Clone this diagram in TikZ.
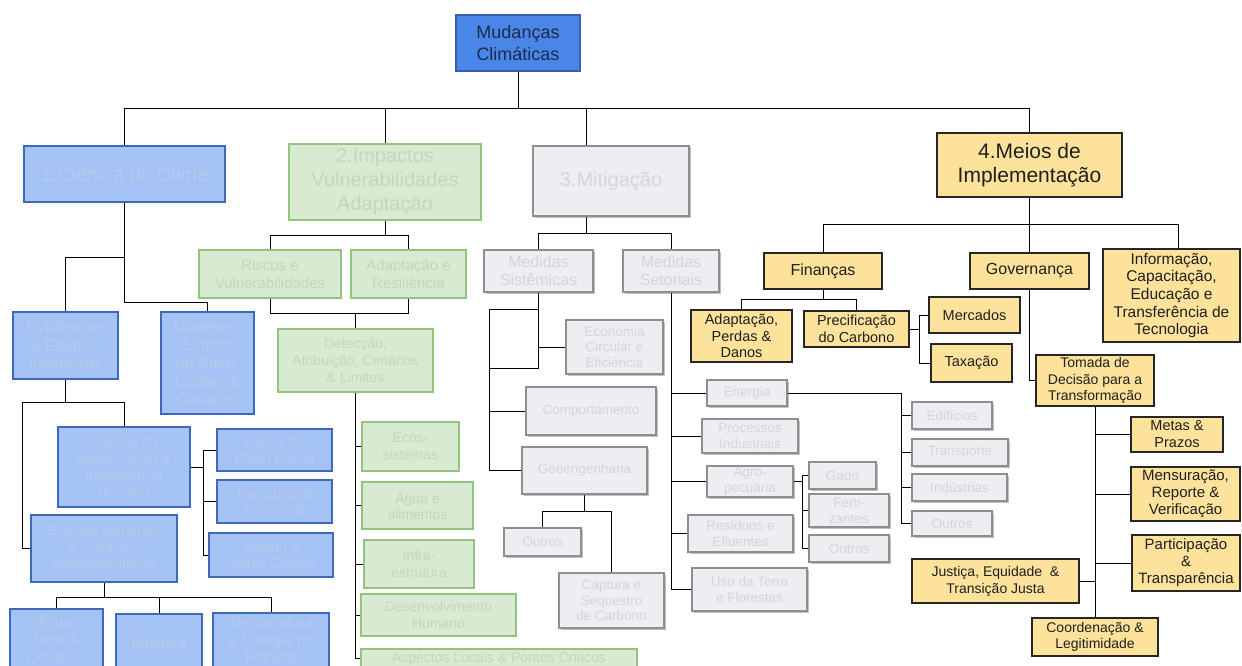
\documentclass[tikz,border=0pt]{standalone}
\usepackage{fontspec}
\setmainfont{Liberation Sans}
\usetikzlibrary{shadows,backgrounds}

\definecolor{linec}{HTML}{6E6E6E}
\definecolor{rootf}{HTML}{4A86E8}
\definecolor{rootd}{HTML}{3A5FA8}
\definecolor{roott}{HTML}{1C2B4A}
\definecolor{bluef}{HTML}{A4C2F4}
\definecolor{blued}{HTML}{3F68B8}
\definecolor{bluet}{HTML}{B6CAEE}
\definecolor{greenf}{HTML}{D9EAD3}
\definecolor{greend}{HTML}{93C47D}
\definecolor{greent}{HTML}{C4D7BC}
\definecolor{greyf}{HTML}{ECEEF1}
\definecolor{greyd}{HTML}{8E8E8E}
\definecolor{greyt}{HTML}{D3D6DA}
\definecolor{yelf}{HTML}{FDE29B}
\definecolor{yeld}{HTML}{262626}

% font sizes (1 unit = 1 pt)
\newcommand{\fsHead}{\fontsize{20}{24}\selectfont}
\newcommand{\fsSub}{\fontsize{16}{18.3}\selectfont}
\newcommand{\fsMid}{\fontsize{15}{17.5}\selectfont}
\newcommand{\fsSmall}{\fontsize{14}{16.8}\selectfont}
\newcommand{\fsTiny}{\fontsize{13.5}{15.5}\selectfont}

% box given by its corners: name, style, x1, y1, x2, y2, text
\newcommand{\bx}[7]{\node[#2, minimum width={#5-#3}, minimum height={#6-#4}] (#1) at ({(#3+#5)/2},{(#4+#6)/2}) {#7};}

\tikzset{
  box/.style={inner sep=0pt, align=center, line width=1.4pt},
  rootbox/.style={box, fill=rootf, draw=rootd, text=roott},
  bluebox/.style={box, fill=bluef, draw=blued, text=bluet},
  greenbox/.style={box, fill=greenf, draw=greend, text=greent},
  greybox/.style={box, fill=greyf, draw=greyd, text=greyt,
    drop shadow={shadow xshift=1.5pt, shadow yshift=-1.5pt, opacity=0.35, fill=black!70}},
  yelbox/.style={box, fill=yelf, draw=yeld, text=black!88, line width=1.2pt},
  wire/.style={draw=linec, line width=1.6pt},
}

\begin{document}
\begin{tikzpicture}[x=1pt, y=-1pt]
\useasboundingbox (0,0) rectangle (1242,666);
\clip (0,0) rectangle (1242,666);

% ---------- bus coordinates ----------
\coordinate (busA) at (0,108);
\coordinate (mdrop) at (586,108);
\coordinate (c1) at (0,257);
\coordinate (c2) at (0,302);
\coordinate (e1) at (22,402);
\coordinate (k1) at (203,0);
\coordinate (v1) at (0,597);
\coordinate (i1) at (0,235);
\coordinate (i2) at (0,313);
\coordinate (m1) at (586,233);
\coordinate (s0) at (489,309);
\coordinate (s1) at (0,368);
\coordinate (g1) at (0,511);
\coordinate (n1) at (901,0);
\coordinate (a1) at (802,0);
\coordinate (y2) at (1178,224);
\coordinate (f1) at (0,299);
\coordinate (p1) at (919,0);

% ---------- root ----------
\bx{root}{rootbox, font=\fontsize{18}{22.5}\selectfont}{456}{15}{580}{71}{Mudanças\\Climáticas}

% ---------- 1. Ciência do Clima ----------
\bx{cien}{bluebox, font=\fsHead}{24}{146}{225}{202}{1.Ciência do Clima}
\bx{evid}{bluebox, font=\fsSub}{13}{312}{118}{379}{Evidências\\e Efeitos,\\Incertezas}
\bx{mod}{bluebox, font=\fsSub}{161}{312}{254}{414}{Modelos ,\\Linhas\\de Base,\\Limites \&\\Cenários}
\bx{caus}{bluebox, font=\fsSmall}{58}{427}{190}{507}{Causas do\\aquecimento \&\\Interferência\\Humana}
\bx{gases}{bluebox, font=\fsSmall}{217}{429}{332}{471}{Gases de\\Efeito Estufa}
\bx{part}{bluebox, font=\fsSmall}{217}{480}{332}{523}{Partículas \&\\Aerossóis}
\bx{alb}{bluebox, font=\fsSmall}{209}{533}{333}{577}{Albedo e\\Outras Causas}
\bx{even}{bluebox, font=\fsSmall}{31}{515}{177}{582}{Eventos extremos\\\& crônicos;\\retroalimentação}
\bx{agua}{bluebox, font=\fsMid}{10}{609}{103}{668}{Água,\\Gelo \&\\Oceanos}
\bx{bio}{bluebox, font=\fsMid}{116}{614}{202}{672}{Biosfera}
\bx{temp}{bluebox, font=\fsMid}{213}{613}{329}{667}{Temperatura\\e Energia no\\Planeta}

% ---------- 2. Impactos ----------
\bx{imp}{greenbox, font=\fsHead}{289}{144}{481}{220}{2.Impactos\\Vulnerabilidades\\Adaptação}
\bx{risc}{greenbox, font=\fsMid}{199}{250}{341}{298}{Riscos e\\Vulnerabilidades}
\bx{adap}{greenbox, font=\fsMid}{351}{250}{466}{298}{Adaptação e\\Resiliência}
\bx{det}{greenbox, font=\fsSmall}{278}{329}{433}{392}{Detecção,\\Atribuição, Cenários\\\& Limites}
\bx{ecos}{greenbox, font=\fsSmall}{362}{422}{459}{471}{Ecos-\\sistemas}
\bx{agal}{greenbox, font=\fsSmall}{362}{482}{473}{529}{Água e\\alimentos}
\bx{infra}{greenbox, font=\fsSmall}{364}{540}{474}{588}{Infra-\\estrutura}
\bx{desen}{greenbox, font=\fsSmall}{361}{594}{516}{636}{Desenvolvimento\\Humano}
\bx{asp}{greenbox, font=\fsSmall}{361}{649}{637}{668}{Aspectos Locais \& Pontos Críticos}

% ---------- 3. Mitigação ----------
\bx{mit}{greybox, font=\fsHead}{533}{146}{689}{216}{3.Mitigação}
\bx{msis}{greybox, font=\fsSub}{484}{250}{593}{292}{Medidas\\Sistêmicas}
\bx{mset}{greybox, font=\fsSub}{623}{250}{719}{292}{Medidas\\Setoriais}
\bx{eco}{greybox, font=\fsTiny}{566}{320}{663}{374}{Economia\\Circular e\\Eficiência}
\bx{comp}{greybox, font=\fsTiny}{526}{387}{656}{435}{Comportamento}
\bx{geo}{greybox, font=\fsTiny}{522}{447}{647}{494}{Geoengenharia}
\bx{outm}{greybox, font=\fsTiny}{504}{528}{581}{556}{Outros}
\bx{capt}{greybox, font=\fsTiny}{559}{573}{664}{628}{Captura e\\Sequestro\\de Carbono}
\bx{ener}{greybox, font=\fsTiny}{707}{380}{787}{406}{Energia}
\bx{proc}{greybox, font=\fsTiny}{702}{419}{798}{453}{Processos\\Industriais}
\bx{agro}{greybox, font=\fsTiny}{707}{466}{793}{497}{Agro-\\pecuária}
\bx{resi}{greybox, font=\fsTiny}{688}{515}{793}{552}{Resíduos e\\Efluentes}
\bx{uso}{greybox, font=\fsTiny}{692}{568}{807}{611}{Uso da Terra\\e Florestas}
\bx{edif}{greybox, font=\fsTiny}{912}{402}{992}{429}{Edifícios}
\bx{trans}{greybox, font=\fsTiny}{912}{439}{1008}{466}{Transporte}
\bx{indu}{greybox, font=\fsTiny}{912}{474}{1007}{501}{Indústrias}
\bx{oute}{greybox, font=\fsTiny}{912}{511}{992}{536}{Outros}
\bx{gado}{greybox, font=\fsTiny}{809}{462}{876}{489}{Gado}
\bx{fert}{greybox, font=\fsTiny}{809}{494}{889}{527}{Ferti-\\zantes}
\bx{outa}{greybox, font=\fsTiny}{809}{535}{889}{562}{Outros}

% ---------- 4. Meios de Implementação ----------
\bx{meios}{yelbox, font=\fontsize{21}{24}\selectfont}{937}{133}{1122}{197}{4.Meios de\\Implementação}
\bx{fin}{yelbox, font=\fsSub}{764}{253}{882}{289}{Finanças}
\bx{gov}{yelbox, font=\fsSub}{970}{253}{1089}{289}{Governança}
\bx{info}{yelbox, font=\fontsize{15.5}{17.7}\selectfont}{1103}{249}{1240}{342}{Informação,\\Capacitação,\\Educação e\\Transferência de\\Tecnologia}
\bx{adpd}{yelbox, font=\fontsize{14.5}{16.7}\selectfont}{691}{310}{792}{362}{Adaptação,\\Perdas \&\\Danos}
\bx{prec}{yelbox, font=\fontsize{14.5}{16.7}\selectfont}{804}{311}{909}{347}{Precificação\\do Carbono}
\bx{merc}{yelbox, font=\fontsize{14.5}{16.7}\selectfont}{929}{297}{1020}{333}{Mercados}
\bx{tax}{yelbox, font=\fontsize{14.5}{16.7}\selectfont}{931}{344}{1012}{382}{Taxação}
\bx{toma}{yelbox, font=\fontsize{14}{16.5}\selectfont}{1036}{355}{1154}{406}{Tomada de\\Decisão para a\\Transformação}
\bx{metas}{yelbox, font=\fontsize{14.5}{17}\selectfont}{1131}{417}{1223}{452}{Metas \&\\Prazos}
\bx{mens}{yelbox, font=\fontsize{15}{17}\selectfont}{1131}{467}{1240}{521}{Mensuração,\\Reporte \&\\Verificação}
\bx{partic}{yelbox, font=\fontsize{15}{17}\selectfont}{1132}{535}{1240}{591}{Participação\\\&\\Transparência}
\bx{just}{yelbox, font=\fontsize{14}{17}\selectfont}{912}{559}{1079}{603}{Justiça, Equidade~~\&\\Transição Justa}
\bx{coord}{yelbox, font=\fontsize{14}{16.5}\selectfont}{1032}{618}{1158}{656}{Coordenação \&\\Legitimidade}

% ---------- connectors, kept behind the boxes ----------
\begin{scope}[on background layer, wire]
% root level
\draw (root.south) -- (root.south |- busA);
\draw (cien.north |- busA) -- (meios.north |- busA);
\draw (cien.north |- busA) -- (cien.north);
\draw (imp.north |- busA) -- (imp.north);
\draw (mdrop) -- (mdrop |- mit.north);
\draw (meios.north |- busA) -- (meios.north);
% ciencia do clima
\draw (cien.south) -- (cien.south |- c2) -| (mod.north);
\draw (cien.south |- c1) -| (evid.north);
\draw (evid.south) -- (evid.south |- e1);
\draw (e1) -| (caus.north);
\draw (e1) |- (even.west);
\draw (caus.east) -- (caus.east -| k1);
\draw (gases.west) -| (k1 |- alb.west) -- (alb.west);
\draw (part.west) -- (part.west -| k1);
\draw (even.south) -- (even.south |- v1);
\draw (agua.north) |- (temp.north |- v1) -- (temp.north);
\draw (bio.north) -- (bio.north |- v1);
% impactos
\draw (imp.south) -- (imp.south |- i1);
\draw (risc.north) |- (adap.north |- i1) -- (adap.north);
\draw (risc.south) |- (adap.south |- i2) -- (adap.south);
\draw (det.north |- i2) -- (det.north);
\draw (det.south) |- (asp.west);
\draw (ecos.west) -- (ecos.west -| det.south);
\draw (agal.west) -- (agal.west -| det.south);
\draw (infra.west) -- (infra.west -| det.south);
\draw (desen.west) -- (desen.west -| det.south);
% mitigacao
\draw (m1 |- mit.south) -- (m1);
\draw (msis.north) |- (mset.north |- m1) -- (mset.north);
\draw (msis.south) -- (msis.south |- s1) -- (s0 |- s1);
\draw (msis.south |- s0) -- (s0) -- (s0 |- geo.west) -- (geo.west);
\draw (comp.west) -- (comp.west -| s0);
\draw (eco.west) -- (eco.west -| msis.south);
\draw (geo.south) -- (geo.south |- g1);
\draw (outm.north) |- (capt.north |- g1) -- (capt.north);
\draw (mset.south) |- (uso.west);
\draw (ener.west) -- (ener.west -| mset.south);
\draw (proc.west) -- (proc.west -| mset.south);
\draw (agro.west) -- (agro.west -| mset.south);
\draw (resi.west) -- (resi.west -| mset.south);
\draw (ener.east) -- (ener.east -| n1) -- (n1 |- oute.west) -- (oute.west);
\draw (edif.west) -- (edif.west -| n1);
\draw (trans.west) -- (trans.west -| n1);
\draw (indu.west) -- (indu.west -| n1);
\draw (agro.east) -- (agro.east -| a1);
\draw (gado.west) -| (a1 |- outa.west) -- (outa.west);
\draw (fert.west) -- (fert.west -| a1);
% meios de implementacao
\draw (meios.south) -- (gov.north);
\draw (fin.north) |- (y2) -- (y2 |- info.north);
\draw (fin.south) -- (fin.south |- f1);
\draw (adpd.north) |- (prec.north |- f1) -- (prec.north);
\draw (prec.east) -- (prec.east -| p1);
\draw (merc.west) -| (p1 |- tax.west) -- (tax.west);
\draw (gov.south) |- (toma.west);
\draw (toma.south) -- (coord.north);
\draw (metas.west) -- (metas.west -| toma.south);
\draw (mens.west) -- (mens.west -| toma.south);
\draw (partic.west) -- (partic.west -| toma.south);
\draw (just.east) -- (just.east -| toma.south);
\end{scope}
\end{tikzpicture}
\end{document}
